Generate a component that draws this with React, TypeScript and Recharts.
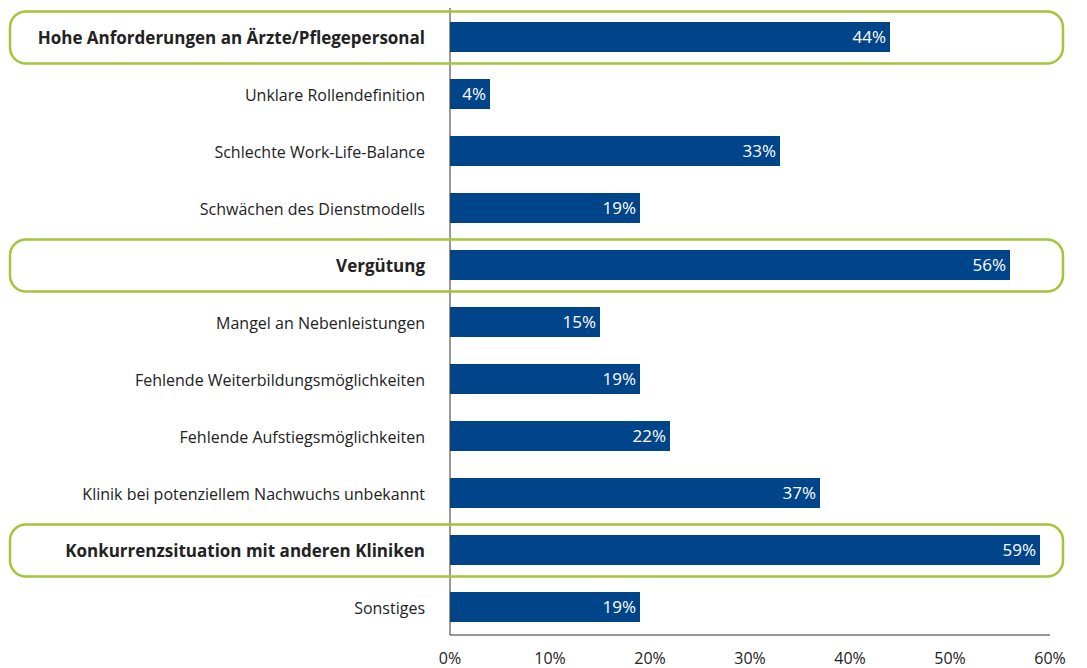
import { Bar, BarChart, LabelList, XAxis, YAxis } from "recharts";

const categories = [
  "Hohe Anforderungen an Ärzte/Pflegepersonal",
  "Unklare Rollendefinition",
  "Schlechte Work-Life-Balance",
  "Schwächen des Dienstmodells",
  "Vergütung",
  "Mangel an Nebenleistungen",
  "Fehlende Weiterbildungsmöglichkeiten",
  "Fehlende Aufstiegsmöglichkeiten",
  "Klinik bei potenziellem Nachwuchs unbekannt",
  "Konkurrenzsituation mit anderen Kliniken",
  "Sonstiges",
];
const values = [44, 4, 33, 19, 56, 15, 19, 22, 37, 59, 19];
const highlighted = [
  "Hohe Anforderungen an Ärzte/Pflegepersonal",
  "Vergütung",
  "Konkurrenzsituation mit anderen Kliniken",
];
const xTicks = [0, 10, 20, 30, 40, 50, 60];

const BAR_COLOR = "#00448a";
const GREEN = "#a2c539";
const TEXT_COLOR = "#222";
const AXIS_COLOR = "#333";
const FONT = "'Open Sans', 'Noto Sans', sans-serif";

const data = categories.map((name, i) => ({ name, value: values[i] }));

// category label; highlighted rows get bold text and a rounded green frame
const CategoryTick = ({ x, y, payload }: any) => {
  const bold = highlighted.includes(payload.value);
  return (
    <g>
      {bold && (
        <rect
          x={10}
          y={y - 25}
          width={1053}
          height={52}
          rx={16}
          ry={16}
          fill="none"
          stroke={GREEN}
          strokeWidth={2.5}
        />
      )}
      <text
        x={x}
        y={y}
        dy="0.45em"
        textAnchor="end"
        fontSize={bold ? 17 : 16}
        fontFamily={FONT}
        fontWeight={bold ? 700 : 400}
        fill={TEXT_COLOR}
      >
        {payload.value}
      </text>
    </g>
  );
};

export default function App() {
  return (
    <div style={{ position: "absolute", left: 0, top: 0 }}>
      <BarChart
        width={1087}
        height={668}
        data={data}
        layout="vertical"
        margin={{ top: 8, right: 37, bottom: 0, left: 0 }}
        barSize={30}
      >
        <XAxis
          type="number"
          domain={[0, 60]}
          ticks={xTicks}
          tickFormatter={(v: number) => `${v}%`}
          height={33}
          tickSize={0}
          tickMargin={18}
          axisLine={{ stroke: AXIS_COLOR }}
          tick={{ fontSize: 16, fill: TEXT_COLOR, fontFamily: FONT }}
          interval={0}
        />
        <YAxis
          type="category"
          dataKey="name"
          width={450}
          tickSize={0}
          tickMargin={25}
          axisLine={{ stroke: AXIS_COLOR }}
          tick={<CategoryTick />}
          interval={0}
        />
        <Bar dataKey="value" fill={BAR_COLOR} isAnimationActive={false}>
          <LabelList
            dataKey="value"
            position="insideRight"
            offset={4}
            formatter={(v: any) => `${v}%`}
            fill="#fff"
            fontSize={17}
            fontFamily={FONT}
          />
        </Bar>
      </BarChart>
    </div>
  );
}
